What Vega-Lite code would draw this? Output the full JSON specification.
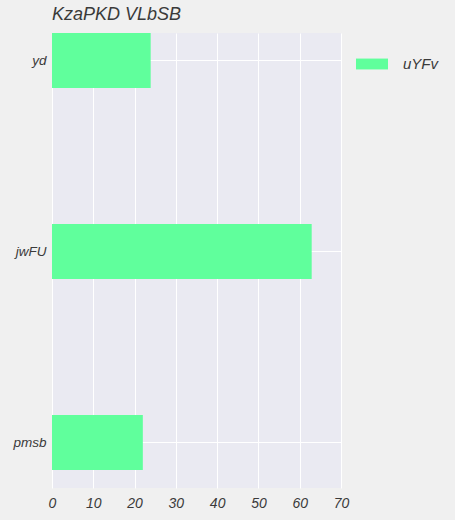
{
  "$schema": "https://vega.github.io/schema/vega-lite/v6.json",
  "width": 289,
  "height": 455,
  "autosize": {"type": "none"},
  "padding": {"left": 52, "top": 33, "right": 114, "bottom": 32},
  "background": "#f0f0f0",
  "config": {
    "view": {"fill": "#eaeaf2", "stroke": null},
    "font": "Liberation Sans"
  },
  "title": {
    "text": "KzaPKD VLbSB",
    "anchor": "start",
    "frame": "group",
    "fontStyle": "italic",
    "fontWeight": "normal",
    "fontSize": 18,
    "color": "#3a3a3a",
    "offset": 9
  },
  "data": {
    "values": [
      {"category": "yd", "value": 23.9, "series": "uYFv"},
      {"category": "jwFU", "value": 62.9, "series": "uYFv"},
      {"category": "pmsb", "value": 22.0, "series": "uYFv"}
    ]
  },
  "mark": {"type": "bar"},
  "encoding": {
    "y": {
      "field": "category",
      "type": "nominal",
      "sort": null,
      "scale": {"paddingInner": 0.712, "paddingOuter": 0.047, "align": 0},
      "axis": {
        "title": null,
        "domain": false,
        "ticks": false,
        "bandPosition": 0.5,
        "grid": true,
        "gridColor": "#ffffff",
        "gridWidth": 1,
        "gridOpacity": 1,
        "labelPadding": 6,
        "labelFontSize": 13.5,
        "labelFontStyle": "italic",
        "labelColor": "#3a3a3a"
      }
    },
    "x": {
      "field": "value",
      "type": "quantitative",
      "scale": {"domain": [0, 70], "nice": false, "zero": true},
      "axis": {
        "title": null,
        "domain": false,
        "ticks": false,
        "values": [0, 10, 20, 30, 40, 50, 60, 70],
        "grid": true,
        "gridColor": "#ffffff",
        "gridWidth": 1,
        "gridOpacity": 1,
        "labelPadding": 8,
        "labelFontSize": 14,
        "labelFontStyle": "italic",
        "labelColor": "#3a3a3a",
        "labelFlush": false
      }
    },
    "color": {
      "field": "series",
      "type": "nominal",
      "scale": {"range": ["#60ff9c"]},
      "legend": {
        "title": null,
        "orient": "none",
        "legendX": 304,
        "legendY": 15,
        "symbolType": "M-1,-0.34L1,-0.34L1,0.34L-1,0.34Z",
        "symbolSize": 1024,
        "symbolStrokeWidth": 0,
        "symbolOpacity": 1,
        "labelOffset": 15,
        "labelFontSize": 15,
        "labelFontStyle": "italic",
        "labelColor": "#3a3a3a",
        "padding": 0
      }
    }
  }
}
